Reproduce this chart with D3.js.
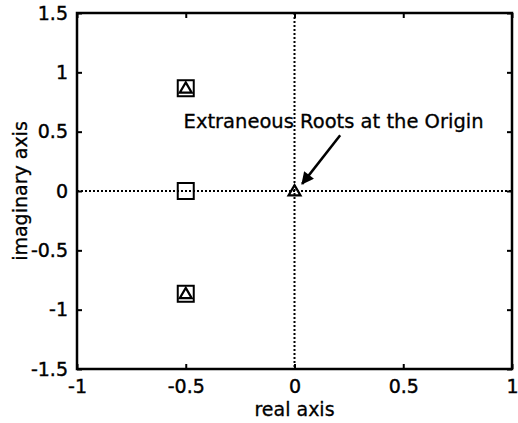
<!DOCTYPE html>
<html>
<head>
<meta charset="utf-8">
<script src="https://cdn.jsdelivr.net/npm/d3@7"></script>
<style>
  body { margin: 0; background: #fff; }
  svg { display: block; font-family: "DejaVu Sans", Verdana, sans-serif; }
</style>
</head>
<body>
<div id="vis"></div>
<script>
// data
const SQUARE_RE = [-0.5, -0.5, -0.5];
const SQUARE_IM = [0.866, 0, -0.866];
const TRI_RE = [-0.5, -0.5, 0];
const TRI_IM = [0.866, -0.866, 0];
const X_TICKS = [-1, -0.5, 0, 0.5, 1];
const Y_TICKS = [-1.5, -1, -0.5, 0, 0.5, 1, 1.5];
const NOTE = "Extraneous Roots at the Origin";

const FRAME_WIDTH = 518;
const FRAME_HEIGHT = 423;
const MARGINS = {left: 77, right: 6, top: 13, bottom: 54};
const VIS_WIDTH = FRAME_WIDTH - MARGINS.left - MARGINS.right;
const VIS_HEIGHT = FRAME_HEIGHT - MARGINS.top - MARGINS.bottom;

const FRAME = d3.select("#vis")
  .append("svg")
    .attr("width", FRAME_WIDTH)
    .attr("height", FRAME_HEIGHT);

const X_SCALE = d3.scaleLinear().domain([-1, 1]).range([0, VIS_WIDTH]);
const Y_SCALE = d3.scaleLinear().domain([-1.5, 1.5]).range([VIS_HEIGHT, 0]);

const G = FRAME.append("g")
  .attr("transform", "translate(" + MARGINS.left + "," + MARGINS.top + ")");

// dotted zero lines
G.append("line")
  .attr("x1", 0).attr("x2", VIS_WIDTH)
  .attr("y1", Y_SCALE(0)).attr("y2", Y_SCALE(0))
  .attr("stroke", "#000").attr("stroke-width", 2)
  .attr("stroke-dasharray", "2,2");
G.append("line")
  .attr("x1", X_SCALE(0)).attr("x2", X_SCALE(0))
  .attr("y1", 0).attr("y2", VIS_HEIGHT)
  .attr("stroke", "#000").attr("stroke-width", 2)
  .attr("stroke-dasharray", "2,2");

// axes with inward ticks
const fmt = d => String(d);
function styleAxis(sel) {
  sel.select(".domain").remove();
  sel.selectAll(".tick line").attr("stroke-width", 2);
  sel.selectAll("text").attr("font-size", "19px").attr("fill", "#000")
    .attr("stroke", "#000").attr("stroke-width", 0.4)
    .attr("font-family", "DejaVu Sans, Verdana, sans-serif");
}
G.append("g")
  .attr("transform", "translate(0," + VIS_HEIGHT + ")")
  .call(d3.axisBottom(X_SCALE).tickValues(X_TICKS).tickFormat(fmt).tickSizeInner(-5).tickSizeOuter(0).tickPadding(11))
  .call(styleAxis);
G.append("g")
  .call(d3.axisLeft(Y_SCALE).tickValues(Y_TICKS).tickFormat(fmt).tickSizeInner(-5).tickSizeOuter(0).tickPadding(9))
  .call(styleAxis);
G.append("g")
  .call(d3.axisTop(X_SCALE).tickValues(X_TICKS).tickFormat("").tickSizeInner(-5).tickSizeOuter(0))
  .call(styleAxis);
G.append("g")
  .attr("transform", "translate(" + VIS_WIDTH + ",0)")
  .call(d3.axisRight(Y_SCALE).tickValues(Y_TICKS).tickFormat("").tickSizeInner(-5).tickSizeOuter(0))
  .call(styleAxis);

// box
G.append("rect")
  .attr("x", 0).attr("y", 0)
  .attr("width", VIS_WIDTH).attr("height", VIS_HEIGHT)
  .attr("fill", "none").attr("stroke", "#000").attr("stroke-width", 2.5);

// squares
const SQ = 16;
G.selectAll(".sq")
  .data(SQUARE_RE.map((r, i) => ({re: r, im: SQUARE_IM[i]})))
  .enter().append("rect")
    .attr("class", "sq")
    .attr("x", d => X_SCALE(d.re) - SQ / 2)
    .attr("y", d => Y_SCALE(d.im) - SQ / 2)
    .attr("width", SQ).attr("height", SQ)
    .attr("fill", "none").attr("stroke", "#000").attr("stroke-width", 2);

// triangles
const tri = d3.symbol().type(d3.symbolTriangle).size(62);
G.selectAll(".tri")
  .data(TRI_RE.map((r, i) => ({re: r, im: TRI_IM[i]})))
  .enter().append("path")
    .attr("class", "tri")
    .attr("d", tri)
    .attr("transform", d => "translate(" + X_SCALE(d.re) + "," + (Y_SCALE(d.im) + 1) + ")")
    .attr("fill", "none").attr("stroke", "#000").attr("stroke-width", 2.2);

// annotation with arrow
FRAME.append("defs").append("marker")
  .attr("id", "head")
  .attr("viewBox", "0 0 10 10")
  .attr("refX", 9).attr("refY", 5)
  .attr("markerWidth", 6).attr("markerHeight", 5)
  .attr("markerUnits", "strokeWidth")
  .attr("orient", "auto")
  .append("path").attr("d", "M0,0L10,5L0,10Z").attr("fill", "#000");

G.append("line")
  .attr("x1", X_SCALE(0.21)).attr("y1", Y_SCALE(0.47))
  .attr("x2", X_SCALE(0.035)).attr("y2", Y_SCALE(0.06))
  .attr("stroke", "#000").attr("stroke-width", 2.5)
  .attr("marker-end", "url(#head)");

G.append("text")
  .attr("x", X_SCALE(-0.51)).attr("y", Y_SCALE(0.53))
  .attr("font-size", "19px")
  .attr("stroke", "#000").attr("stroke-width", 0.3)
  .attr("textLength", 300).attr("lengthAdjust", "spacingAndGlyphs")
  .text(NOTE);

// axis titles
FRAME.append("text")
  .attr("x", MARGINS.left + VIS_WIDTH / 2)
  .attr("y", 416)
  .attr("text-anchor", "middle")
  .attr("font-size", "19px")
  .attr("stroke", "#000").attr("stroke-width", 0.3)
  .text("real axis");

FRAME.append("text")
  .attr("transform", "translate(27," + (MARGINS.top + VIS_HEIGHT / 2) + ") rotate(-90)")
  .attr("text-anchor", "middle")
  .attr("font-size", "19px")
  .attr("stroke", "#000").attr("stroke-width", 0.3)
  .text("imaginary axis");
</script>
</body>
</html>
